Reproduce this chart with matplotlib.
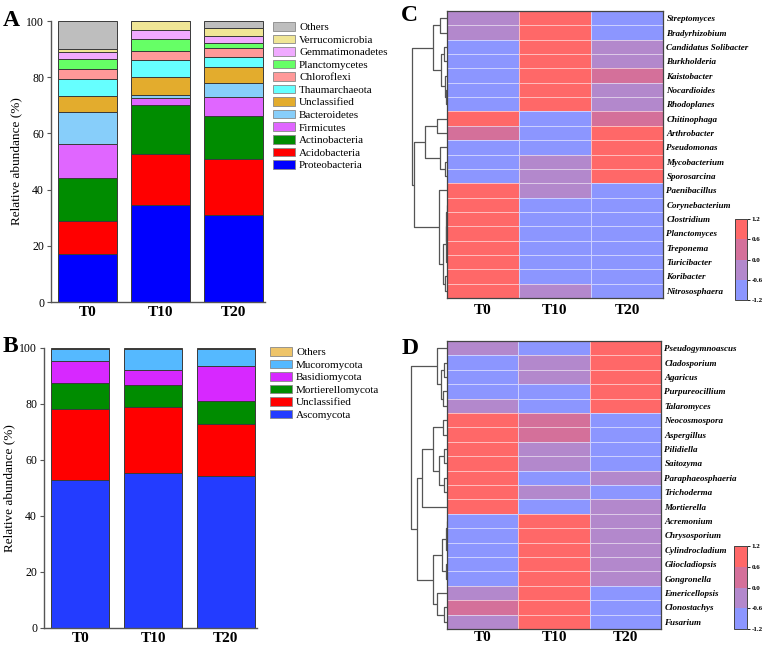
import numpy as np
import matplotlib
matplotlib.use("Agg")
import matplotlib.pyplot as plt
from matplotlib.colors import ListedColormap, BoundaryNorm
from matplotlib.patches import Patch

plt.rcParams["font.family"] = "Liberation Serif"

# ---------------------------------------------------------------------------
# Data
# ---------------------------------------------------------------------------
groups = ["T0", "T10", "T20"]

# A: bacterial phyla, listed bottom -> top of the stack
bac_phyla = ["Proteobacteria", "Acidobacteria", "Actinobacteria", "Firmicutes",
             "Bacteroidetes", "Unclassified", "Thaumarchaeota", "Chloroflexi",
             "Planctomycetes", "Gemmatimonadetes", "Verrucomicrobia", "Others"]
bac_T0 = [17.2, 11.7, 15.3, 11.9, 11.4, 5.9, 5.8, 3.8, 3.6, 2.2, 1.2, 10.0]
bac_T10 = [34.4, 18.1, 17.6, 2.6, 1.1, 6.4, 5.8, 3.3, 4.2, 3.2, 3.3, 0.0]
bac_T20 = [30.8, 20.2, 15.2, 6.7, 4.9, 5.9, 3.6, 3.0, 1.7, 2.8, 2.6, 2.6]
bac_colors = ["#0000FF", "#FF0000", "#008C00", "#E066FF", "#87CEFA", "#E3AC2D",
              "#66FFFF", "#FF9999", "#66FF66", "#F0AAFF", "#F0E696", "#BEBEBE"]

# B: fungal phyla, bottom -> top
fun_phyla = ["Ascomycota", "Unclassified", "Mortierellomycota", "Basidiomycota",
             "Mucoromycota", "Others"]
fun_T0 = [52.8, 25.3, 9.3, 7.8, 4.3, 0.5]
fun_T10 = [55.5, 23.6, 7.8, 5.1, 7.6, 0.4]
fun_T20 = [54.2, 18.5, 8.4, 12.4, 6.0, 0.5]
fun_colors = ["#233CFF", "#FF0000", "#008C00", "#D728FF", "#55B9FF", "#EEC469"]

# C: bacterial genera heatmap (z-scores T0, T10, T20)
bac_genera = ["Streptomyces", "Bradyrhizobium", "Candidatus Solibacter", "Burkholderia",
              "Kaistobacter", "Nocardioides", "Rhodoplanes", "Chitinophaga",
              "Arthrobacter", "Pseudomonas", "Mycobacterium", "Sporosarcina",
              "Paenibacillus", "Corynebacterium", "Clostridium", "Planctomyces",
              "Treponema", "Turicibacter", "Koribacter", "Nitrososphaera"]
bac_z = [[-0.42, 1.14, -0.72], [-0.45, 1.15, -0.70], [-0.78, 1.12, -0.34],
         [-0.80, 1.12, -0.32], [-1.05, 0.95, 0.10], [-0.82, 1.11, -0.29],
         [-0.80, 1.12, -0.32], [1.02, -1.05, 0.03], [0.08, -1.05, 0.97],
         [-0.75, -0.70, 1.15], [-0.85, -0.30, 1.12], [-0.82, -0.32, 1.12],
         [1.12, -0.32, -0.82], [1.15, -0.70, -0.75], [1.15, -0.72, -0.73],
         [1.15, -0.69, -0.76], [1.15, -0.71, -0.74], [1.15, -0.70, -0.75],
         [1.15, -0.73, -0.72], [1.12, -0.35, -0.80]]
# row dendrogram: (height, left, right), leaves are row indices
bac_tree = (35,
            (14, (7, 0, 1), (6, (3, 2, 3), (2.5, 4, (1.5, 5, 6)))),
            (33,
             (22, (10, 7, 8), (7, 9, (2, 10, 11))),
             (8, 12, (4, (1.5, (1, (0.5, 13, 14), (0.5, 15, 16)), 17), (2, 18, 19)))))

# D: fungal genera heatmap
fun_genera = ["Pseudogymnoascus", "Cladosporium", "Agaricus", "Purpureocillium",
              "Talaromyces", "Neocosmospora", "Aspergillus", "Pilidiella", "Saitozyma",
              "Paraphaeosphaeria", "Trichoderma", "Mortierella", "Acremonium",
              "Chrysosporium", "Cylindrocladium", "Gliocladiopsis", "Gongronella",
              "Emericellopsis", "Clonostachys", "Fusarium"]
fun_z = [[-0.30, -0.84, 1.13], [-0.85, -0.28, 1.13], [-0.86, -0.27, 1.13],
         [-0.72, -0.70, 1.15], [-0.35, -0.80, 1.12], [1.05, 0.12, -1.02],
         [1.03, 0.10, -1.05], [1.12, -0.30, -0.82], [1.12, -0.33, -0.80],
         [1.12, -0.80, -0.32], [1.12, -0.36, -0.78], [1.12, -0.82, -0.30],
         [-0.82, 1.12, -0.30], [-0.81, 1.12, -0.31], [-0.83, 1.12, -0.29],
         [-0.82, 1.12, -0.30], [-0.80, 1.12, -0.32], [-0.32, 1.12, -0.80],
         [0.10, 1.00, -1.05], [-0.30, 1.12, -0.82]]
fun_tree = (36,
            (10, 0, (6, (3, 1, 2), (4, 3, 4))),
            (30,
             (25, (14, (4, 5, 6), (8, (3, 7, 8), (3, 9, 10))), 11),
             (14, (5, (1, (0.5, 12, 13), 14), (1, 15, 16)), (10, 17, (3, 18, 19)))))

heat_levels = [-1.2, -0.6, 0.0, 0.6, 1.2]
heat_colors = ["#8C96FF", "#B388CC", "#D4709A", "#FF6868"]

W, H = 767, 646
fig = plt.figure(figsize=(W / 100, H / 100), dpi=100)


def px_axes(x0, y0, x1, y1):
    return fig.add_axes([x0 / W, 1 - y1 / H, (x1 - x0) / W, (y1 - y0) / H])


def stacked(ax, data, colors, names, legend_xy):
    vals = np.array(data).T
    x = np.arange(len(groups))
    bottom = np.zeros(len(groups))
    for row, col in zip(vals, colors):
        ax.bar(x, row, 0.8, bottom=bottom, color=col, edgecolor="#3a3a3a", linewidth=0.7)
        bottom += row
    ax.set_xlim(-0.5, 2.43)
    ax.set_ylim(0, 100)
    ax.set_yticks(range(0, 101, 20))
    ax.set_xticks(x)
    ax.set_xticklabels(groups, fontsize=11, fontweight="bold")
    ax.tick_params(axis="x", length=0, pad=3)
    ax.tick_params(axis="y", length=3, width=0.8, labelsize=8.5, pad=2, color="#555")
    for s in ["top", "right"]:
        ax.spines[s].set_visible(False)
    for s in ["left", "bottom"]:
        ax.spines[s].set_color("#555")
        ax.spines[s].set_linewidth(1.0)
    ax.set_ylabel("Relative abundance (%)", fontsize=9.5, labelpad=3)
    handles = [Patch(facecolor=c, edgecolor="#888", linewidth=0.6, label=n)
               for n, c in zip(names, colors)][::-1]
    ax.legend(handles=handles, loc="upper left", bbox_to_anchor=legend_xy,
              bbox_transform=fig.transFigure, frameon=False, fontsize=8,
              handlelength=2.0, handleheight=0.8, handletextpad=0.35,
              labelspacing=0.22, borderpad=0, borderaxespad=0)


axA = px_axes(51, 21, 265, 302)
stacked(axA, [bac_T0, bac_T10, bac_T20], bac_colors, bac_phyla, (273 / W, 1 - 22 / H))
axB = px_axes(44, 348, 257, 628)
stacked(axB, [fun_T0, fun_T10, fun_T20], fun_colors, fun_phyla, (270 / W, 1 - 347 / H))

cmap = ListedColormap(heat_colors)
norm = BoundaryNorm(heat_levels, cmap.N)


def draw_tree(ax, node):
    if isinstance(node, int):
        return node + 0.5, 0.0
    h, left, right = node
    y1, h1 = draw_tree(ax, left)
    y2, h2 = draw_tree(ax, right)
    ax.plot([h1, h, h, h2], [y1, y1, y2, y2], color="#555", linewidth=0.9,
            solid_capstyle="butt")
    return (y1 + y2) / 2, h


def heatmap(box, dbox, cbox, z, names, tree, xpad):
    ax = px_axes(*box)
    z = np.array(z)
    ax.pcolormesh(np.arange(4), np.arange(len(names) + 1), z, cmap=cmap, norm=norm,
                  edgecolors=(1, 1, 1, 0.55), linewidth=0.6)
    ax.set_ylim(len(names), 0)
    ax.set_xlim(0, 3)
    ax.set_xticks([0.5, 1.5, 2.5])
    ax.set_xticklabels(groups, fontsize=11, fontweight="bold")
    ax.set_yticks(np.arange(len(names)) + 0.5)
    ax.set_yticklabels(names, fontsize=6.5, fontweight="bold", fontstyle="italic")
    ax.yaxis.tick_right()
    ax.tick_params(length=0)
    ax.tick_params(axis="y", pad=2.5)
    ax.tick_params(axis="x", pad=xpad)
    for s in ax.spines.values():
        s.set_color("#444")
        s.set_linewidth(0.9)

    dax = px_axes(*dbox)
    draw_tree(dax, tree)
    dax.set_ylim(len(names), 0)
    dax.set_xlim(37, 0)
    dax.axis("off")

    cax = px_axes(*cbox)
    cb = fig.colorbar(plt.cm.ScalarMappable(norm=norm, cmap=cmap), cax=cax,
                      ticks=heat_levels)
    cb.ax.set_yticklabels([f"{v:.1f}" for v in heat_levels], fontsize=5, fontweight="bold")
    cb.ax.tick_params(length=2, width=0.6, pad=1.5)
    cb.outline.set_edgecolor("#444")
    cb.outline.set_linewidth(0.7)


heatmap((447, 11, 663, 298), (410, 11, 447, 298), (735, 219, 747, 300),
        bac_z, bac_genera, bac_tree, 4.5)
heatmap((447, 341, 661, 629), (410, 341, 447, 629), (734, 546, 747, 629),
        fun_z, fun_genera, fun_tree, 1.5)

for letter, x, y in [("A", 3, 26), ("B", 3, 352), ("C", 401, 21), ("D", 402, 354)]:
    fig.text(x / W, 1 - y / H, letter, fontsize=17, fontweight="bold", ha="left",
             va="baseline")

fig.savefig("out.png", dpi=100)
